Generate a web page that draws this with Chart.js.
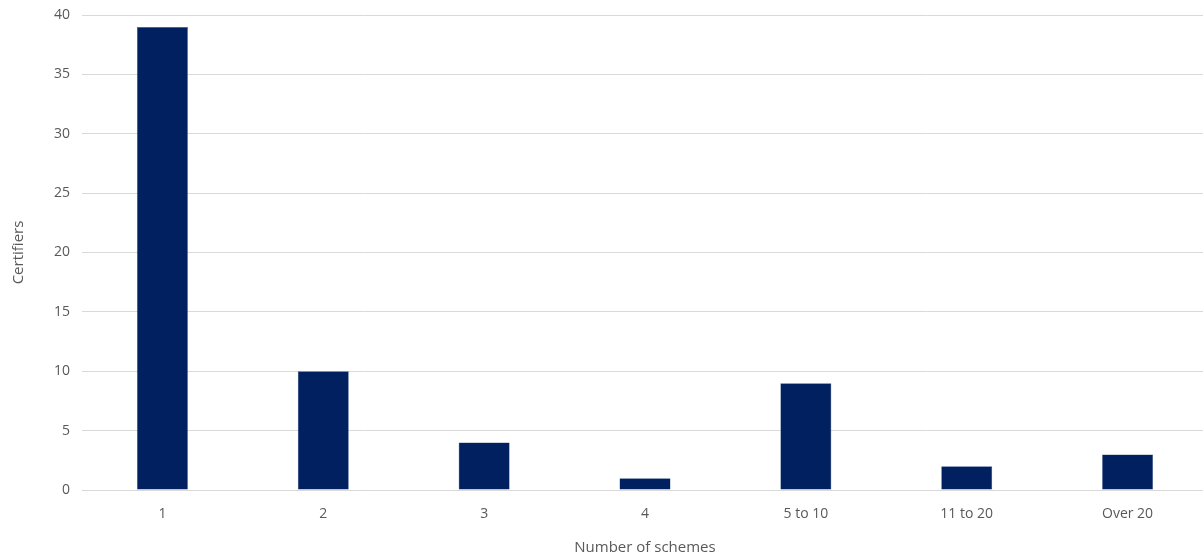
<!DOCTYPE html>
<html>
<head>
<meta charset="utf-8">
<script src="https://cdn.jsdelivr.net/npm/chart.js@4/dist/chart.umd.min.js"></script>
<style>
  html, body { margin: 0; padding: 0; background: #fff; overflow: hidden; }
  #wrap { width: 1208px; height: 557px; }
</style>
</head>
<body>
<div id="wrap"><canvas id="barchart"></canvas></div>
<script>
const categories = ['1', '2', '3', '4', '5 to 10', '11 to 20', 'Over 20'];
const certifiers = [39, 10, 4, 1, 9, 2, 3];

const ctx = document.getElementById('barchart').getContext('2d');
let barchart = new Chart(ctx, {
    type: 'bar',
    data: {
        labels: categories,
        datasets: [{
            label: 'Certifiers',
            data: certifiers,
            backgroundColor: '#002060',
            borderColor: '#3a5a8c',
            borderWidth: 0.5,
            barPercentage: 0.317,
            categoryPercentage: 1
        }]
    },
    options: {
        maintainAspectRatio: false,
        animation: false,
        layout: { padding: { top: 15, right: 0, left: 6, bottom: 0 } },
        plugins: {
            legend: { display: false },
            tooltip: { enabled: false }
        },
        scales: {
            x: {
                grid: { display: false },
                border: { display: true, color: '#d9d9d9', width: 1 },
                ticks: { color: '#595959', font: { family: 'Open Sans', size: 14 }, padding: 8 },
                title: { display: true, text: 'Number of schemes', color: '#595959', font: { family: 'Open Sans', size: 15 }, padding: { top: 4, bottom: 0 } },
                afterFit: (s) => { s.height = 67; }
            },
            y: {
                min: 0,
                max: 40,
                ticks: { stepSize: 5, color: '#595959', font: { family: 'Open Sans', size: 14 }, padding: 12 },
                grid: { color: '#d9d9d9', drawTicks: false },
                border: { display: false },
                title: { display: true, text: 'Certifiers', color: '#595959', font: { family: 'Open Sans', size: 15 } },
                afterFit: (s) => { s.width = 76; s.paddingTop = 0; }
            }
        }
    }
});
</script>
</body>
</html>
